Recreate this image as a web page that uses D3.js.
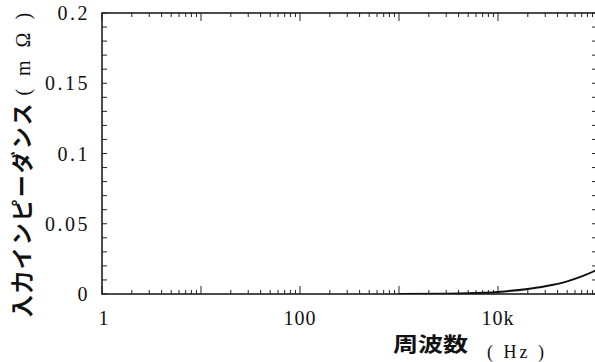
<!DOCTYPE html>
<html>
<head>
<meta charset="utf-8">
<script src="https://cdn.jsdelivr.net/npm/d3@7"></script>
<style>
  html, body { margin: 0; padding: 0; background: #fff; }
  svg { display: block; }
  .serif { font-family: "Liberation Serif", "Times New Roman", Tinos, "DejaVu Serif", serif; }
  .jp { font-family: "Noto Sans CJK JP", sans-serif; font-weight: bold; }
</style>
</head>
<body>
<svg id="chart" width="595" height="362"></svg>
<script>
// Input impedance vs. frequency
const freqHz = [1000, 3000, 5000, 10000, 20000, 30000, 50000, 70000, 100000];
const impedanceMOhm = [0.0, 0.0002, 0.0005, 0.0015, 0.0036, 0.0055, 0.009, 0.0125, 0.0172];
const yTicks = [0, 0.05, 0.1, 0.15, 0.2];
const xTickValues = [1, 100, 10000];
const xTickLabels = ["1", "100", "10k"];

(function () {
const svg = d3.select("#chart");
const pL = 102, pR = 597, pT = 13, pB = 294;

const x = d3.scaleLog().domain([1, 100000]).range([pL, pR]);
const y = d3.scaleLinear().domain([0, 0.2]).range([pB, pT]);

const g = svg.append("g");

// frame
g.append("rect")
  .attr("x", pL).attr("y", pT)
  .attr("width", pR - pL).attr("height", pB - pT)
  .attr("fill", "none").attr("stroke", "#111").attr("stroke-width", 1.5);

// minor log ticks on bottom and top edges
const minor = [];
for (let d = 0; d < 5; d++) {
  for (let m = 2; m <= 9; m++) minor.push(m * Math.pow(10, d));
}
const majors = [1, 10, 100, 1000, 10000, 100000];
function hTicks(edgeY, dir) {
  g.append("g").selectAll("line").data(minor).join("line")
    .attr("x1", d => x(d)).attr("x2", d => x(d))
    .attr("y1", edgeY).attr("y2", edgeY + dir * 4)
    .attr("stroke", "#222").attr("stroke-width", 1);
  g.append("g").selectAll("line").data(majors).join("line")
    .attr("x1", d => x(d)).attr("x2", d => x(d))
    .attr("y1", edgeY).attr("y2", edgeY + dir * 8)
    .attr("stroke", "#222").attr("stroke-width", 1);
}
hTicks(pB, -1);
hTicks(pT, 1);

// y ticks every 0.01 on left and right edges
const yMinor = d3.range(0, 21).map(i => i * 0.01);
function vTicks(edgeX, dir) {
  g.append("g").selectAll("line").data(yMinor).join("line")
    .attr("x1", edgeX).attr("x2", edgeX + dir * 5)
    .attr("y1", d => y(d)).attr("y2", d => y(d))
    .attr("stroke", "#222").attr("stroke-width", 1);
}
vTicks(pL, 1);
vTicks(pR, -1);

// y tick labels
g.append("g").selectAll("text").data(yTicks).join("text")
  .attr("class", "serif")
  .attr("x", 90).attr("y", d => y(d))
  .attr("dy", "0.35em")
  .attr("text-anchor", "end")
  .attr("font-size", 20)
  .attr("letter-spacing", 2.5)
  .attr("fill", "#111")
  .text(d => d === 0 ? "0" : String(d));

// x tick labels
g.append("g").selectAll("text").data(xTickValues).join("text")
  .attr("class", "serif")
  .attr("x", d => x(d) + (d === 1 ? 2 : 0)).attr("y", 325)
  .attr("text-anchor", "middle")
  .attr("font-size", 20)
  .attr("letter-spacing", 1)
  .attr("fill", "#111")
  .text((d, i) => xTickLabels[i]);

// impedance curve
const line = d3.line()
  .x((d, i) => x(freqHz[i]))
  .y(d => y(d))
  .curve(d3.curveMonotoneX);
svg.append("defs").append("clipPath").attr("id", "plot")
  .append("rect").attr("x", pL).attr("y", pT)
  .attr("width", pR - pL).attr("height", pB - pT);
g.append("path")
  .datum(impedanceMOhm)
  .attr("clip-path", "url(#plot)")
  .attr("d", line)
  .attr("fill", "none").attr("stroke", "#111").attr("stroke-width", 2);

// axis titles
g.append("text").attr("class", "jp")
  .attr("transform", "translate(393,352) scale(1.25,1)")
  .attr("font-size", 20).attr("fill", "#111")
  .text("周波数");
g.append("text").attr("class", "serif")
  .attr("x", 487).attr("y", 358)
  .attr("font-size", 18).attr("letter-spacing", 3).attr("fill", "#111")
  .text("( Hz )");

const yt = g.append("text")
  .attr("transform", "translate(30,163) rotate(-90)")
  .attr("text-anchor", "middle")
  .attr("fill", "#111");
yt.append("tspan").attr("class", "jp")
  .attr("font-size", 22).attr("letter-spacing", 2).text("入力インピーダンス");
yt.append("tspan").attr("class", "serif").attr("dx", 6)
  .attr("font-size", 20).attr("letter-spacing", 4).text("( m Ω )");
})();
</script>
</body>
</html>
